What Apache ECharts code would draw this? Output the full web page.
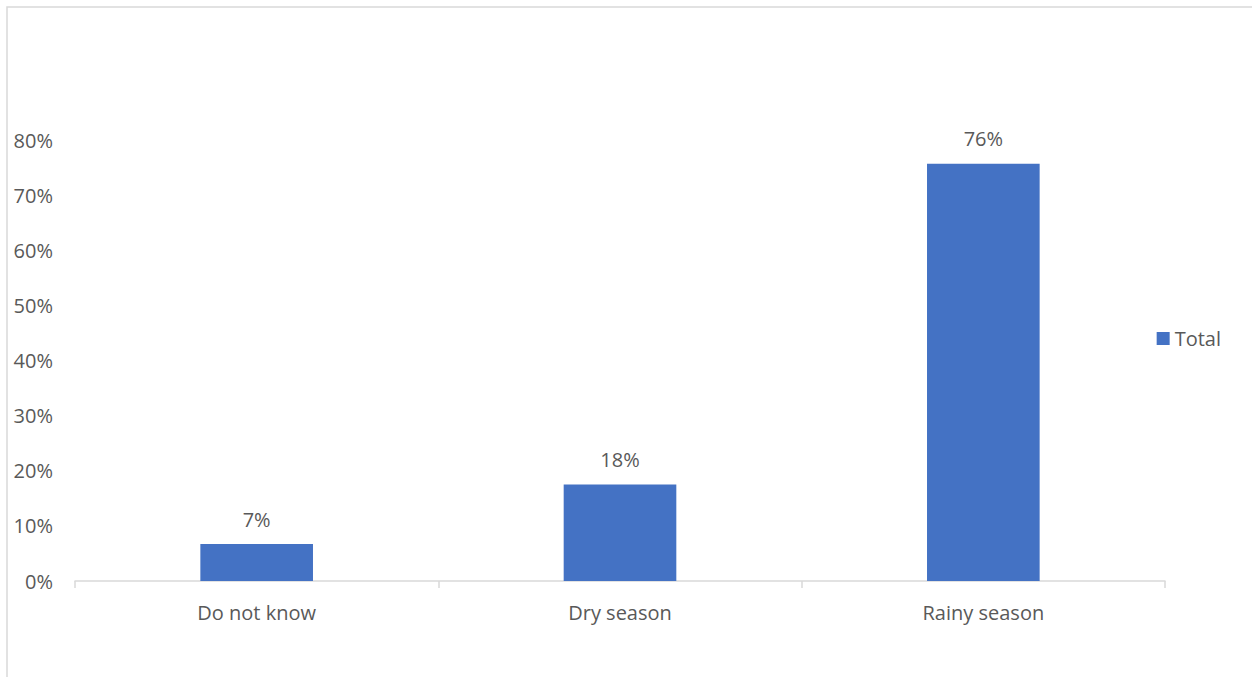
<!DOCTYPE html>
<html>
<head>
<meta charset="utf-8">
<script src="https://cdn.jsdelivr.net/npm/echarts@6/dist/echarts.min.js"></script>
<style>
  html, body { margin: 0; padding: 0; background: #fff; }
  #chart { width: 1252px; height: 677px; }
</style>
</head>
<body>
<div id="chart"></div>
<script>
var categories = ['Do not know', 'Dry season', 'Rainy season'];
var totals = [6.7, 17.5, 75.7];
var yTicks = [0, 10, 20, 30, 40, 50, 60, 70, 80];

var font = '"Open Sans", sans-serif';
var textColor = '#595959';
var rule = '#d9d9d9';

var chart = echarts.init(document.getElementById('chart'), null, { renderer: 'svg' });
chart.setOption({
  animation: false,
  graphic: [{
    type: 'rect',
    shape: { x: 7, y: 7, width: 1300, height: 700 },
    style: { fill: 'none', stroke: rule, lineWidth: 1.5 },
    silent: true
  }],
  legend: {
    right: 26,
    top: 'middle',
    orient: 'vertical',
    icon: 'rect',
    itemWidth: 13,
    itemHeight: 13,
    itemGap: 6,
    textStyle: { fontSize: 20, color: textColor, fontFamily: font }
  },
  grid: { left: 75, right: 87, top: 140, bottom: 96 },
  xAxis: {
    type: 'category',
    data: categories,
    axisLine: { lineStyle: { color: rule, width: 1.5 } },
    axisTick: { show: true, length: 7, lineStyle: { color: rule, width: 1.5 } },
    axisLabel: { margin: 21, fontSize: 20, color: textColor, fontFamily: font }
  },
  yAxis: {
    type: 'value',
    min: yTicks[0],
    max: yTicks[yTicks.length - 1],
    interval: 10,
    splitLine: { show: false },
    axisLine: { show: false },
    axisTick: { show: false },
    axisLabel: {
      margin: 22,
      fontSize: 20,
      color: textColor,
      fontFamily: font,
      formatter: function(v) { return v + '%'; }
    }
  },
  series: [{
    name: 'Total',
    type: 'bar',
    data: totals,
    barWidth: '31%',
    itemStyle: { color: '#4472c4' },
    label: {
      show: true,
      position: 'top',
      distance: 15,
      fontSize: 20,
      color: textColor,
      fontFamily: font,
      formatter: function(p) { return Math.round(p.value) + '%'; }
    }
  }]
});
</script>
</body>
</html>
